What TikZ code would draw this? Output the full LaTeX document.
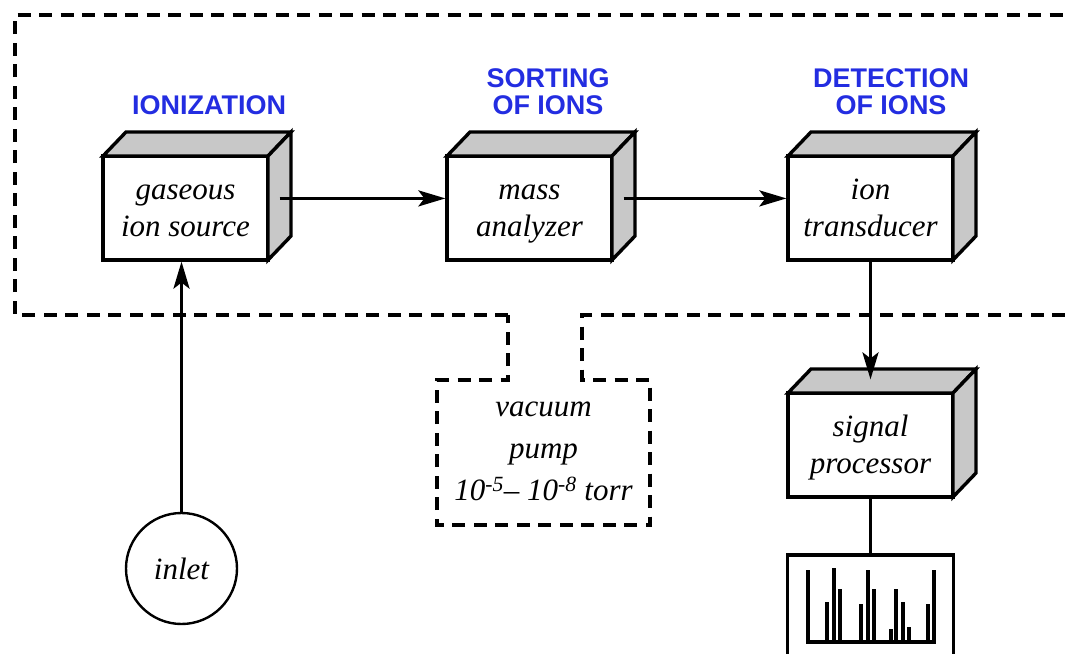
\documentclass[tikz,border=0pt]{standalone}
\usepackage{fontspec}
\setmainfont{Liberation Serif}
\setsansfont{Liberation Sans}
\usetikzlibrary{arrows.meta,calc}

\definecolor{stagecolor}{RGB}{35,45,225}
\definecolor{facegray}{RGB}{200,200,200}

% depth of the solid boxes
\def\bdx{23}
\def\bdy{24}

% struts that keep two-line box texts at the same height
\newcommand\frontup{\rule{0pt}{0.9em}}
\newcommand\frontdown{\rule[-0.25em]{0pt}{0.25em}}

% a solid box: front face node plus shaded top and side faces
% #1 name, #2 x, #3 y, #4 text
\newcommand\solidbox[4]{%
  \node[frontface] (#1) at (#2,#3) {\frontup #4\frontdown};
  \draw[sideface] (#1.north west) -- ++(\bdx,-\bdy)
    -- ($(#1.north east)+(\bdx,-\bdy)$) -- (#1.north east) -- cycle;
  \draw[sideface] (#1.north east) -- ++(\bdx,-\bdy)
    -- ($(#1.south east)+(\bdx,-\bdy)$) -- (#1.south east) -- cycle;
  \coordinate (#1-side) at ($(#1.east)+(0.5*\bdx,-0.4*\bdy)$);
  \coordinate (#1-top) at ($(#1.north)+(0.5*\bdx,-0.5*\bdy)$);
}

\tikzset{
  frontface/.style={draw, line width=3.4pt, fill=white,
    minimum width=165pt, minimum height=104pt, inner sep=0pt, outer sep=0pt,
    align=center, font=\fontsize{31}{37}\selectfont\itshape},
  sideface/.style={draw, line width=3.4pt, fill=facegray, line join=miter},
  stage/.style={text=stagecolor, align=center,
    font=\sffamily\bfseries\fontsize{27}{27}\selectfont},
  flow/.style={line width=3.2pt, shorten >=1.6pt,
    -{Stealth[length=27pt,width=16pt,inset=6pt]}},
  link/.style={line width=2.8pt},
  vacline/.style={line width=3.2pt, dash pattern=on 13pt off 8.5pt},
  pumptext/.style={align=center, inner sep=0pt,
    font=\fontsize{31}{42}\selectfont\itshape},
  inletnode/.style={circle, draw, line width=2.4pt, minimum size=111pt,
    inner sep=0pt, font=\fontsize{31}{37}\selectfont\itshape},
  specbox/.style={draw, line width=3.2pt, minimum width=166pt,
    minimum height=150pt, inner sep=0pt, outer sep=0pt},
  bar/.style={line width=3.4pt}
}

\begin{document}
\begin{tikzpicture}[x=1pt,y=-1pt]
\useasboundingbox (0,0) rectangle (1065,653);
\clip (0,0) rectangle (1065,653);

% vacuum enclosure with the pump below it
\draw[vacline] (508,315) -- (15,315) -- (15,15) -- (1090,15) -- (1090,315)
  -- (582,315) -- (582,380) -- (650,380) -- (650,525) -- (437,525)
  -- (437,380) -- (508,380) -- cycle;
\node[pumptext] (pump) at (543.5,451)
  {vacuum\\pump\\10\textsuperscript{-5}-- 10\textsuperscript{-8} torr};

% stage headings
\node[stage] (ionization) at (209,105.5) {IONIZATION};
\node[stage] (sorting) at (548,92) {SORTING\\OF IONS};
\node[stage] (detection) at (891,92) {DETECTION\\OF IONS};

% instrument components
\solidbox{gas}{185.5}{208}{gaseous\\ion source}
\solidbox{mass}{529.5}{208}{mass\\analyzer}
\solidbox{trans}{870.5}{208}{ion\\transducer}
\solidbox{sig}{870.5}{445}{signal\\processor}

\node[inletnode] (inlet) at (181.5,568.5) {inlet};

% read-out with a mass spectrum
\node[specbox] (spec) at (870.5,630) {};
\draw[bar] (808,570) -- (808,642) -- (934,642) -- (934,570);
\foreach \bx/\by in {827/602, 834/568, 840/589, 861/604, 868/570, 874/589,
                     891/629, 896/589, 903/602, 909/627, 928/604}
  \draw[bar] (\bx,642) -- (\bx,\by);

% flow of ions and signal
\draw[flow] (inlet.north) -- (inlet.north |- gas.south);
\draw[flow] (gas-side) -- (gas-side -| mass.west);
\draw[flow] (mass-side) -- (mass-side -| trans.west);
\draw[flow] (trans.south) -- (trans.south |- sig-top);
\draw[link] (sig.south) -- (spec.north);
\end{tikzpicture}
\end{document}
